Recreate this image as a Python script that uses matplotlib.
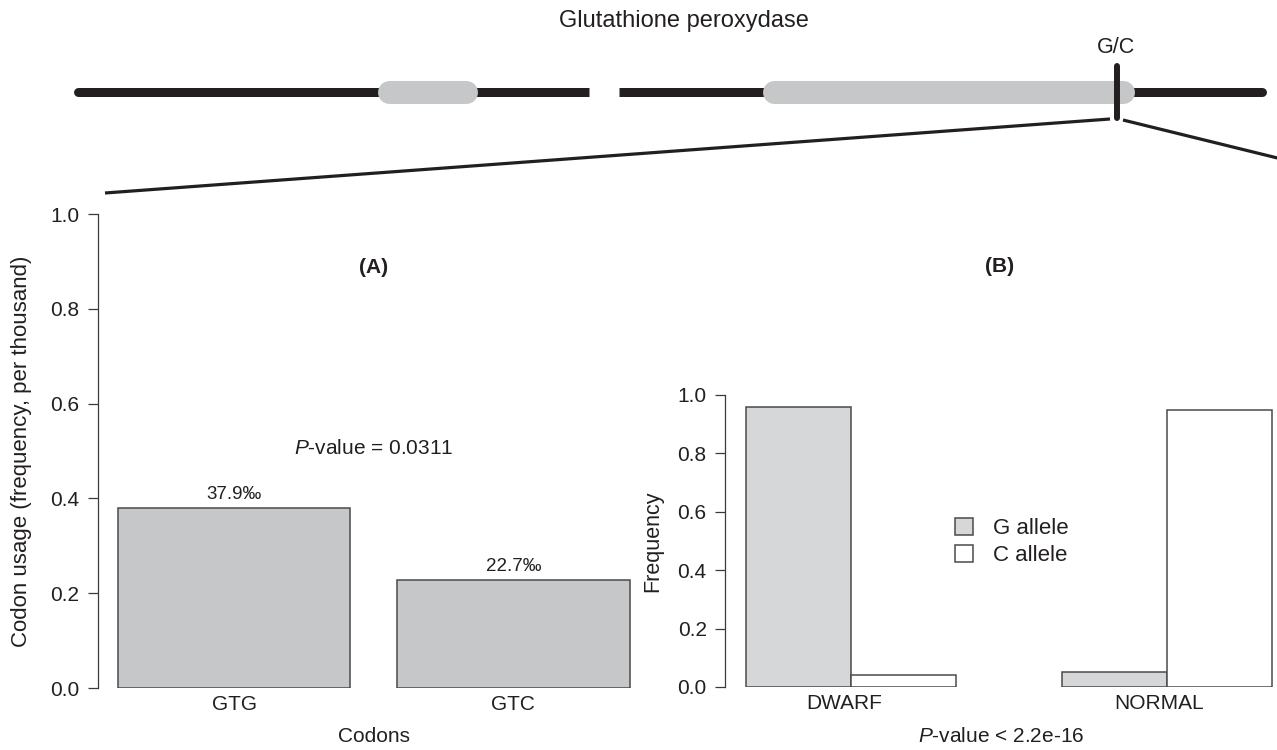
import numpy as np
import matplotlib
matplotlib.use("Agg")
import matplotlib.pyplot as plt
from matplotlib.patches import Patch

plt.rcParams['font.family'] = ['Liberation Sans', 'DejaVu Sans']
plt.rcParams['mathtext.fontset'] = 'custom'
plt.rcParams['mathtext.rm'] = 'Liberation Sans'
plt.rcParams['mathtext.it'] = 'Liberation Sans:italic'

# ---- data ----
codons = ['GTG', 'GTC']
codon_usage = [0.379, 0.227]
codon_labels = ['37.9\u2030', '22.7\u2030']
pvalue_a = '$P$-value = 0.0311'

groups = ['DWARF', 'NORMAL']
g_allele = [0.96, 0.05]
c_allele = [0.04, 0.95]
pvalue_b = '$P$-value < 2.2e-16'

gene_name = 'Glutathione peroxydase'
snp_name = 'G/C'

# ---- styling ----
W, H = 1277, 750
TXT = '#231f20'
AXC = '#3a3a3a'
EDGE = '#4a4a4a'
GREY_A = '#c6c7c9'
GREY_B = '#d6d7d9'
FS = 15

fig = plt.figure(figsize=(W / 100, H / 100), dpi=100)

# schematic gene diagram on a pixel-coordinate overlay
ov = fig.add_axes([0, 0, 1, 1], zorder=0)
ov.set_xlim(0, W)
ov.set_ylim(H, 0)
ov.axis('off')
ov.patch.set_alpha(0)

line_y = 91.5
lw_gene = 9 * 0.72
exon_lw = 23 * 0.72
# backbone: outer ends rounded, ends at the gap cut square
ov.plot([77.5, 90], [line_y] * 2, color='#231f20', lw=lw_gene, solid_capstyle='round')
ov.plot([85, 589], [line_y] * 2, color='#231f20', lw=lw_gene, solid_capstyle='butt')
ov.plot([619, 1250], [line_y] * 2, color='#231f20', lw=lw_gene, solid_capstyle='butt')
ov.plot([1245, 1261.5], [line_y] * 2, color='#231f20', lw=lw_gene, solid_capstyle='round')
# exons
for x0, x1 in [(377, 477), (762, 1134)]:
    ov.plot([x0 + 11.5, x1 - 11.5], [line_y] * 2, color=GREY_A, lw=exon_lw,
            solid_capstyle='round')
# SNP marker
ov.plot([1117, 1117], [66, 118], color='#231f20', lw=4.3, solid_capstyle='round')
ov.text(1116, 53, snp_name, ha='center', va='baseline', fontsize=15.5, color=TXT)
ov.text(684, 27, gene_name, ha='center', va='baseline', fontsize=17, color=TXT)
# zoom lines
ov.plot([1110, 105], [119, 193], color='#231f20', lw=2.3, solid_capstyle='butt')
ov.plot([1123, 1310], [120, 166], color='#231f20', lw=2.3, solid_capstyle='butt')


def style_axis(ax):
    for s in ['top', 'right', 'bottom']:
        ax.spines[s].set_visible(False)
    ax.spines['left'].set_bounds(0, 1)
    ax.spines['left'].set_color(AXC)
    ax.spines['left'].set_linewidth(0.9)
    ax.set_ylim(0, 1)
    ax.set_yticks(np.arange(0, 1.01, 0.2))
    ax.set_yticklabels([f'{v:.1f}' for v in np.arange(0, 1.01, 0.2)])
    ax.tick_params(axis='y', direction='out', length=7.2, width=0.9, color=AXC,
                   pad=6, labelsize=FS, labelcolor=TXT)
    ax.tick_params(axis='x', length=0, pad=5, labelsize=FS, labelcolor=TXT)
    ax.patch.set_alpha(0)


# ---- panel A ----
axa = fig.add_axes([97.5 / W, 1 - 688 / H, (650 - 97.5) / W, (688 - 214) / H], zorder=1)
xa = np.arange(len(codons)) * 1.2 + 0.7
axa.bar(xa, codon_usage, width=1.0, color=GREY_A, edgecolor=EDGE, linewidth=1.1)
axa.set_xlim(0.112, 2.488)
style_axis(axa)
axa.set_xticks(xa)
axa.set_xticklabels(codons)
for x, v, lab in zip(xa, codon_usage, codon_labels):
    axa.text(x, v + 0.012, lab, ha='center', va='bottom', fontsize=13.5, color=TXT)
axa.text(1.3, 0.506, pvalue_a, ha='center', va='center', fontsize=FS, color=TXT)
axa.text(1.3, 0.888, '(A)', ha='center', va='center', fontsize=FS,
         fontweight='bold', color=TXT)
axa.set_ylabel('Codon usage (frequency, per thousand)', fontsize=16, color=TXT,
               va='center')
axa.yaxis.set_label_coords((21 - 97.5) / (650 - 97.5), 0.5)
axa.set_xlabel('Codons', fontsize=FS, color=TXT, va='center')
axa.xaxis.set_label_coords(0.5, (688 - 737) / (688 - 214))

# ---- panel B ----
axb = fig.add_axes([725 / W, 1 - 687 / H, (1293 - 725) / W, (687 - 395) / H], zorder=1)
centers = np.arange(len(groups)) * 3 + 2.0
axb.bar(centers - 0.5, g_allele, width=1.0, color=GREY_B, edgecolor=EDGE,
        linewidth=1.1, label='G allele')
axb.bar(centers + 0.5, c_allele, width=1.0, color='white', edgecolor=EDGE,
        linewidth=1.1, label='C allele')
axb.set_xlim(0.8, 6.2)
style_axis(axb)
axb.set_xticks(centers - 0.07)
axb.set_xticklabels(groups)
axb.set_ylabel('Frequency', fontsize=15.5, color=TXT, va='center')
axb.yaxis.set_label_coords((653 - 725) / (1293 - 725), 0.5)
axb.set_xlabel(pvalue_b, fontsize=FS, color=TXT, va='center')
axb.xaxis.set_label_coords((1001 - 725) / (1293 - 725), (687 - 737) / (687 - 395))
axb.legend(handles=[Patch(facecolor=GREY_B, edgecolor=EDGE, lw=1.1, label='G allele'),
                    Patch(facecolor='white', edgecolor=EDGE, lw=1.1, label='C allele')],
           loc='center left', bbox_to_anchor=((955 - 725) / (1293 - 725), (687 - 542) / (687 - 395)),
           frameon=False, borderpad=0, borderaxespad=0, handlelength=0.8,
           handleheight=0.8, handletextpad=0.9, labelspacing=0.27,
           prop={'size': 16})
for t in axb.get_legend().get_texts():
    t.set_color(TXT)

fig.text(1000 / W, 1 - 267 / H, '(B)', ha='center', va='center', fontsize=FS,
         fontweight='bold', color=TXT)

fig.savefig('out.png', dpi=100)
